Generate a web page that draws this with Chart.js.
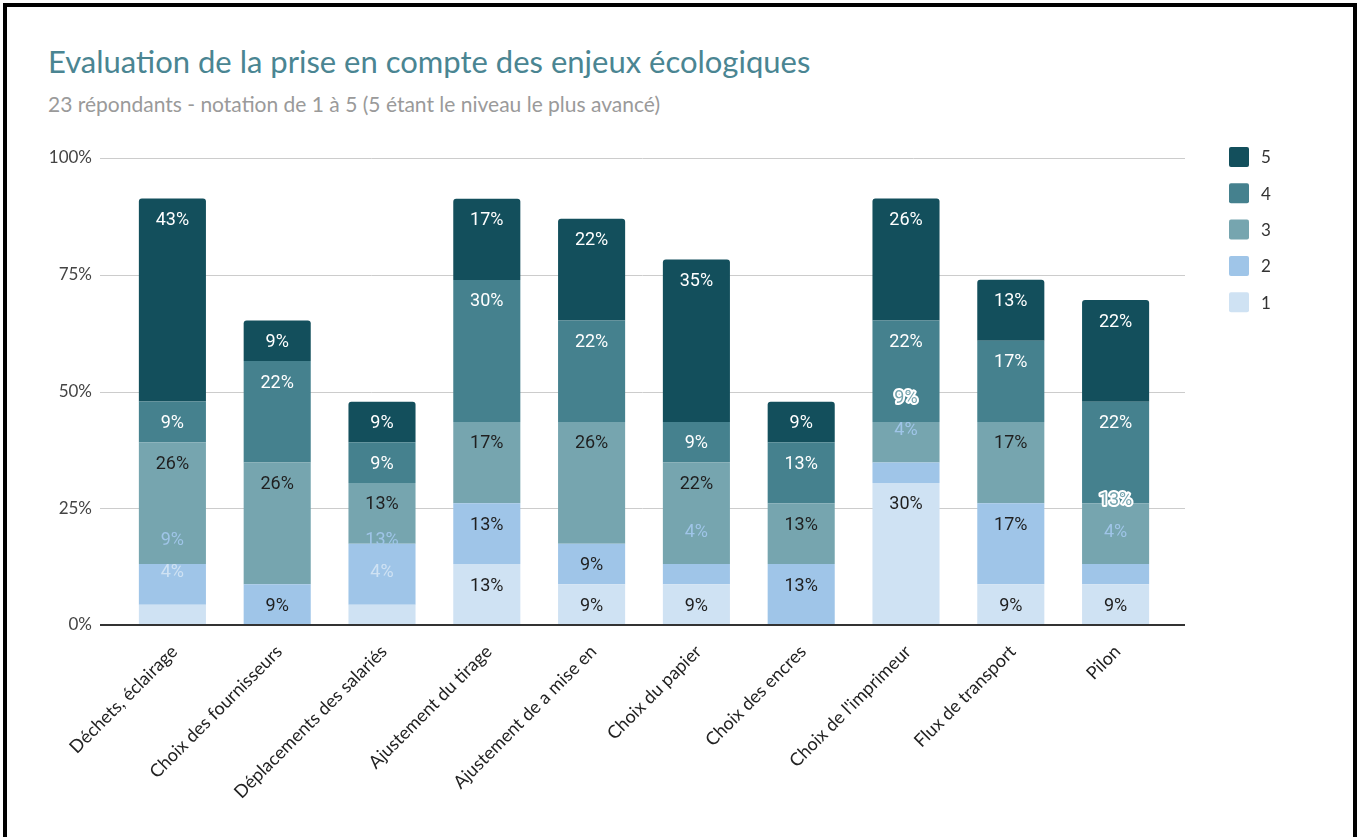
<!DOCTYPE html>
<html>
<head>
<meta charset="utf-8">
<script src="https://cdn.jsdelivr.net/npm/chart.js@4.4.1/dist/chart.umd.min.js"></script>
<style>
  html, body { margin: 0; padding: 0; background: #fff; overflow: hidden; }
  #frame { position: absolute; left: 3px; top: 3px; width: 1346px; height: 900px; border: 4px solid #000; }
  #title { position: absolute; left: 48px; top: 46px; font-family: Lato, sans-serif; font-size: 31px; line-height: 31px; color: #4a8592; white-space: nowrap; }
  #subtitle { position: absolute; left: 48px; top: 93px; font-family: Lato, sans-serif; font-size: 21px; line-height: 21px; color: #9a9a9a; white-space: nowrap; }
  #wrap { position: absolute; left: 0; top: 0; width: 1361px; height: 837px; }
</style>
</head>
<body>
<div id="frame"></div>
<div id="title">Evaluation de la prise en compte des enjeux écologiques</div>
<div id="subtitle">23 répondants - notation de 1 à 5 (5 étant le niveau le plus avancé)</div>
<div id="wrap"><canvas id="c"></canvas></div>
<script>
// ---- data ----
const categories = [
  "Déchets, éclairage", "Choix des fournisseurs", "Déplacements des salariés",
  "Ajustement du tirage", "Ajustement de a mise en", "Choix du papier",
  "Choix des encres", "Choix de l'imprimeur", "Flux de transport", "Pilon"
];
const seriesNames = ["1", "2", "3", "4", "5"];
const level1 = [4.35, 0, 4.35, 13.04, 8.70, 8.70, 0, 30.43, 8.70, 8.70];
const level2 = [8.70, 8.70, 13.04, 13.04, 8.70, 4.35, 13.04, 4.35, 17.39, 4.35];
const level3 = [26.09, 26.09, 13.04, 17.39, 26.09, 21.74, 13.04, 8.70, 17.39, 13.04];
const level4 = [8.70, 21.74, 8.70, 30.43, 21.74, 8.70, 13.04, 21.74, 17.39, 21.74];
const level5 = [43.48, 8.70, 8.70, 17.39, 21.74, 34.78, 8.70, 26.09, 13.04, 21.74];
const yTickValues = [0, 25, 50, 75, 100];

// ---- styles ----
const colors = ["#cfe2f3", "#9fc5e8", "#76a5af", "#45818e", "#134f5c"];
const labelColors = ["#1f1f1f", "#1f1f1f", "#1f1f1f", "#ffffff", "#ffffff"];
const haloWhenMoved = [false, false, true, false, false];

const seriesData = [level1, level2, level3, level4, level5];

function isTopOfStack(dsIndex, i) {
  for (let d = dsIndex + 1; d < seriesData.length; d++) {
    if (seriesData[d][i] > 0) return false;
  }
  return true;
}

const datasets = seriesData.map((arr, d) => ({
  label: seriesNames[d],
  data: arr,
  backgroundColor: colors[d],
  borderWidth: 0,
  borderSkipped: false,
  borderRadius: (ctx) => isTopOfStack(ctx.datasetIndex, ctx.dataIndex)
    ? { topLeft: 3, topRight: 3, bottomLeft: 0, bottomRight: 0 } : 0,
  barPercentage: 0.64,
  categoryPercentage: 1.0
}));

const gridPlugin = {
  id: 'gridExt',
  beforeDatasetsDraw(chart) {
    const { ctx, chartArea, scales } = chart;
    ctx.save();
    ctx.strokeStyle = '#cccccc';
    ctx.lineWidth = 1;
    yTickValues.forEach(v => {
      if (v === 0) return;
      const y = Math.round(scales.y.getPixelForValue(v)) + 0.5;
      ctx.beginPath();
      ctx.moveTo(chartArea.left - 20, y);
      ctx.lineTo(chartArea.right + 17, y);
      ctx.stroke();
    });
    ctx.restore();
  },
  afterDatasetsDraw(chart) {
    const { ctx, chartArea, scales } = chart;
    ctx.save();
    ctx.strokeStyle = '#333333';
    ctx.lineWidth = 2;
    const y = scales.y.getPixelForValue(0);
    ctx.beginPath();
    ctx.moveTo(chartArea.left - 20, y);
    ctx.lineTo(chartArea.right + 17, y);
    ctx.stroke();
    ctx.restore();
  }
};

const labelPlugin = {
  id: 'segLabels',
  afterDatasetsDraw(chart) {
    const { ctx } = chart;
    ctx.save();
    ctx.font = '18px Roboto, sans-serif';
    ctx.textAlign = 'center';
    ctx.textBaseline = 'middle';
    for (let i = 0; i < categories.length; i++) {
      let prevY = null;
      for (let d = 0; d < seriesData.length; d++) {
        const v = seriesData[d][i];
        if (!v) continue;
        const el = chart.getDatasetMeta(d).data[i];
        const top = el.y, bottom = el.base, h = bottom - top;
        let y = top + 22, moved = false;
        if (h < 30) { y = top - 32; moved = true; }
        if (prevY !== null && y > prevY - 32) { y = prevY - 32; moved = true; }
        const txt = Math.round(v) + '%';
        if (moved) {
          if (haloWhenMoved[d]) {
            ctx.lineWidth = 4;
            ctx.lineJoin = 'round';
            ctx.strokeStyle = '#ffffff';
            ctx.strokeText(txt, el.x, y);
          }
          ctx.fillStyle = colors[d];
        } else {
          ctx.fillStyle = labelColors[d];
        }
        ctx.fillText(txt, el.x, y);
        prevY = y;
      }
    }
    ctx.restore();
  }
};

const legendPlugin = {
  id: 'sideLegend',
  afterDraw(chart) {
    const { ctx } = chart;
    ctx.save();
    ctx.font = '17px Lato, sans-serif';
    ctx.textAlign = 'left';
    ctx.textBaseline = 'middle';
    for (let k = 0; k < seriesNames.length; k++) {
      const d = seriesNames.length - 1 - k;
      const cy = 157 + k * 36.3;
      ctx.fillStyle = colors[d];
      ctx.beginPath();
      ctx.roundRect(1229, cy - 10, 20, 20, 2);
      ctx.fill();
      ctx.fillStyle = '#333333';
      ctx.fillText(seriesNames[d], 1261, cy + 1);
    }
    ctx.restore();
  }
};

new Chart(document.getElementById('c'), {
  type: 'bar',
  data: { labels: categories, datasets },
  options: {
    responsive: true,
    maintainAspectRatio: false,
    animation: false,
    layout: { padding: { left: 0, right: 193, top: 158, bottom: 0 } },
    plugins: { legend: { display: false }, tooltip: { enabled: false }, title: { display: false } },
    scales: {
      x: {
        stacked: true,
        grid: { display: false, drawTicks: false },
        border: { display: false },
        afterFit: (s) => { s.height = 212; },
        ticks: {
          autoSkip: false,
          maxRotation: 45,
          minRotation: 45,
          padding: 16,
          labelOffset: 2,
          color: '#222222',
          font: { family: 'Lato', size: 18 }
        }
      },
      y: {
        stacked: true,
        min: 0,
        max: 100,
        afterFit: (s) => { s.width = 120; },
        afterBuildTicks: (s) => { s.ticks = yTickValues.map(v => ({ value: v })); },
        grid: { display: false, drawTicks: false },
        border: { display: false },
        ticks: {
          padding: 28,
          color: '#444444',
          font: { family: 'Lato', size: 17 },
          callback: (v) => v + '%'
        }
      }
    }
  },
  plugins: [gridPlugin, labelPlugin, legendPlugin]
});
</script>
</body>
</html>
